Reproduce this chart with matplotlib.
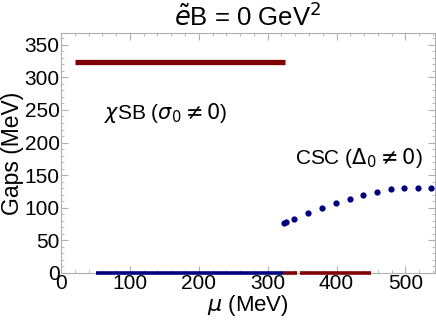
import numpy as np
import matplotlib
matplotlib.use("Agg")
import matplotlib.pyplot as plt
from matplotlib.ticker import MultipleLocator

plt.rcParams['font.family'] = ['Liberation Sans', 'DejaVu Sans']
plt.rcParams['mathtext.fontset'] = 'dejavusans'

# chiral gap (upper plateau)
mu_sigma = [20, 325]
gap_sigma = [323, 323]

# zero lines along the axis
mu_zero_blue = [51, 322]
mu_zero_red1 = [323, 342]
mu_zero_red2 = [347, 450]

# CSC gap points
mu_csc = [323.6, 326, 339, 358.4, 378.7, 399, 419.3, 439, 459, 478.7, 498.6, 518.4, 537.7]
gap_csc = [77.3, 78.3, 82.5, 92.2, 99.4, 107, 113.7, 119.4, 124, 128.6, 130.1, 130.6, 130.1]

red = '#7f0000'
blue = '#00007f'
frame = '#b0b0b0'

fig = plt.figure(figsize=(4.36, 3.27), dpi=100)
ax = fig.add_axes([61/436, 1 - 273/327, 374/436, 240/327])

ax.plot(mu_sigma, gap_sigma, color=red, lw=3.8, solid_capstyle='butt')
ax.plot(mu_zero_blue, [0, 0], color=blue, lw=2.6, solid_capstyle='butt', clip_on=False, zorder=4)
ax.plot(mu_zero_red1, [0, 0], color=red, lw=2.6, solid_capstyle='butt', clip_on=False, zorder=4)
ax.plot(mu_zero_red2, [0, 0], color=red, lw=2.6, solid_capstyle='butt', clip_on=False, zorder=4)
ax.plot(mu_csc, gap_csc, 'o', color=blue, ms=4.5, mec='none')

ax.set_xlim(0, 543)
ax.set_ylim(0, 368)

ax.xaxis.set_major_locator(MultipleLocator(100))
ax.xaxis.set_minor_locator(MultipleLocator(20))
ax.yaxis.set_major_locator(MultipleLocator(50))
ax.yaxis.set_minor_locator(MultipleLocator(10))
ax.tick_params(which='both', direction='in', top=True, right=True, color=frame,
               labelsize=15, pad=1)
ax.tick_params(which='major', length=5, width=0.8)
ax.tick_params(which='minor', length=2.5, width=0.6)
for s in ax.spines.values():
    s.set_color(frame)
    s.set_linewidth(0.8)

ax.set_title(r'$\tilde{e}$B = 0 GeV$^2$', fontsize=18.5, pad=5)
ax.set_xlabel(r'$\mu$ (MeV)', fontsize=16, labelpad=0)
ax.set_ylabel('Gaps (MeV)', fontsize=16.5, labelpad=0)

ax.text(62, 245, r'$\chi$SB ($\sigma_0 \neq 0$)', fontsize=15, va='center')
ax.text(340, 176, r'CSC ($\Delta_0 \neq 0$)', fontsize=15, va='center')

fig.savefig('out.png', dpi=100)
